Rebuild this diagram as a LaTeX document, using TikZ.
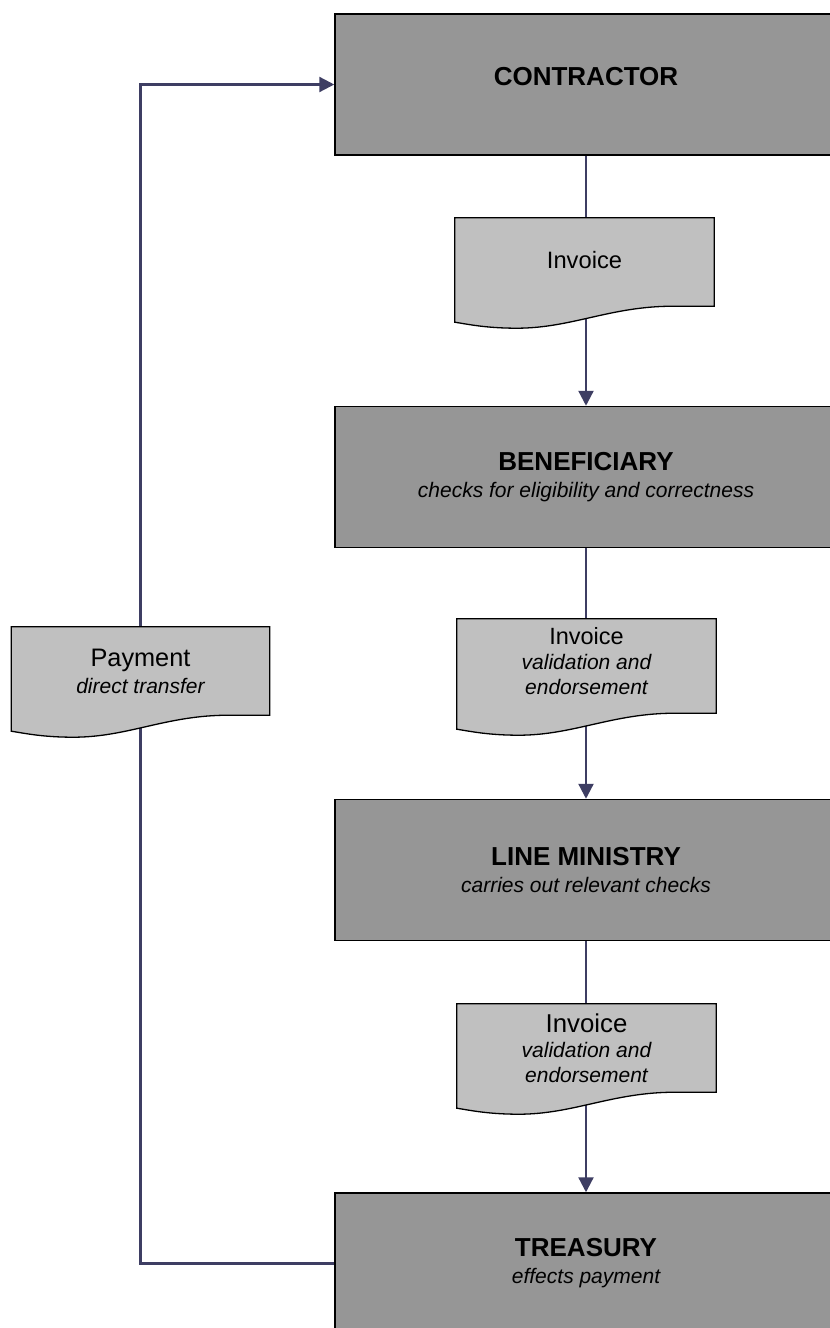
\documentclass[tikz,border=0pt]{standalone}
\usepackage{fontspec}
\setmainfont{Liberation Sans}
\usetikzlibrary{arrows.meta,calc}
\definecolor{boxgray}{HTML}{969696}
\definecolor{docgray}{HTML}{C0C0C0}
\definecolor{linenavy}{HTML}{3E3E63}
\pgfdeclarelayer{paper}
\pgfdeclarelayer{bg}
\pgfsetlayers{paper,bg,main}
\newcommand\titlefont{\fontsize{26}{27}\selectfont\upshape\bfseries}
\newcommand\subfont{\fontsize{21}{27}\selectfont\itshape}
\newcommand\docoutline[1]{%
  \path[docshape] (#1.north west) -- (#1.north east) -- (#1.south east)
    -- ($(#1.south east)+(-41,0)$)
    .. controls ($(#1.south east)+(-104,0)$) and ($(#1.south west)+(117,22)$) .. ($(#1.south west)+(62,22)$)
    .. controls ($(#1.south west)+(31,22)$) and ($(#1.south west)+(13,18)$) .. ($(#1.south west)+(0,16)$)
    -- cycle;}
\begin{document}
\begin{tikzpicture}[x=1pt,y=-1pt,
  bigbox/.style={draw=black,line width=1.5pt,fill=boxgray,minimum width=502pt,minimum height=141pt,
    inner sep=0pt,align=center,font=\subfont},
  docbox/.style={minimum width=259pt,minimum height=88pt,inner sep=0pt,align=center},
  docshape/.style={draw=black,line width=1.3pt,fill=docgray,line join=miter},
  conn/.style={draw=linenavy,line width=2.3pt},
  tip/.style={-{Triangle[length=15pt,width=15pt]}}]
\useasboundingbox (0,0) rectangle (830,1328);
\clip (0,0) rectangle (830,1328);
\begin{pgfonlayer}{paper}
\fill[white] (0,0) rectangle (830,1328);
\end{pgfonlayer}
% main boxes
\node[bigbox] (contractor) at (586,84.5) {\raisebox{16pt}{\titlefont CONTRACTOR}};
\node[bigbox] (beneficiary) at (586,477) {{\titlefont BENEFICIARY}\\checks for eligibility and correctness};
\node[bigbox] (ministry) at (586,870) {{\titlefont LINE MINISTRY}\\carries out relevant checks};
\node[bigbox] (treasury) at (586,1263.5) {{\titlefont TREASURY}\\effects payment};
% document shapes (positions)
\node[docbox] (inv1) at (584.5,262) {};
\node[docbox,minimum height=94pt] (inv2) at (586.5,666) {};
\node[docbox] (inv3) at (586.5,1048) {};
\node[docbox,minimum width=258pt] (pay) at (140.5,671) {};
\docoutline{inv1}
\docoutline{inv2}
\docoutline{inv3}
\docoutline{pay}
\node[align=center,font=\fontsize{23.7}{25}\selectfont] at (inv1) {\raisebox{4pt}{Invoice}};
\node[align=center,font=\fontsize{21}{25}\selectfont\itshape] at ($(inv2)+(0,-5)$)
  {{\upshape\fontsize{23.5}{25}\selectfont Invoice}\\validation and\\endorsement};
\node[align=center,font=\fontsize{21}{25}\selectfont\itshape] at (inv3)
  {{\upshape\fontsize{25.8}{25}\selectfont Invoice}\\validation and\\endorsement};
\node[align=center,font=\fontsize{21}{27}\selectfont\itshape] at (pay)
  {{\upshape\fontsize{25.3}{27}\selectfont Payment}\\direct transfer};
% connectors
\begin{pgfonlayer}{bg}
\draw[conn,tip] (contractor.south) -- (beneficiary.north);
\draw[conn,tip] (beneficiary.south) -- (ministry.north);
\draw[conn,tip] (ministry.south) -- (treasury.north);
\draw[conn,tip] (treasury.west) -| (pay.center) |- (contractor.west);
\end{pgfonlayer}
\end{tikzpicture}
\end{document}
